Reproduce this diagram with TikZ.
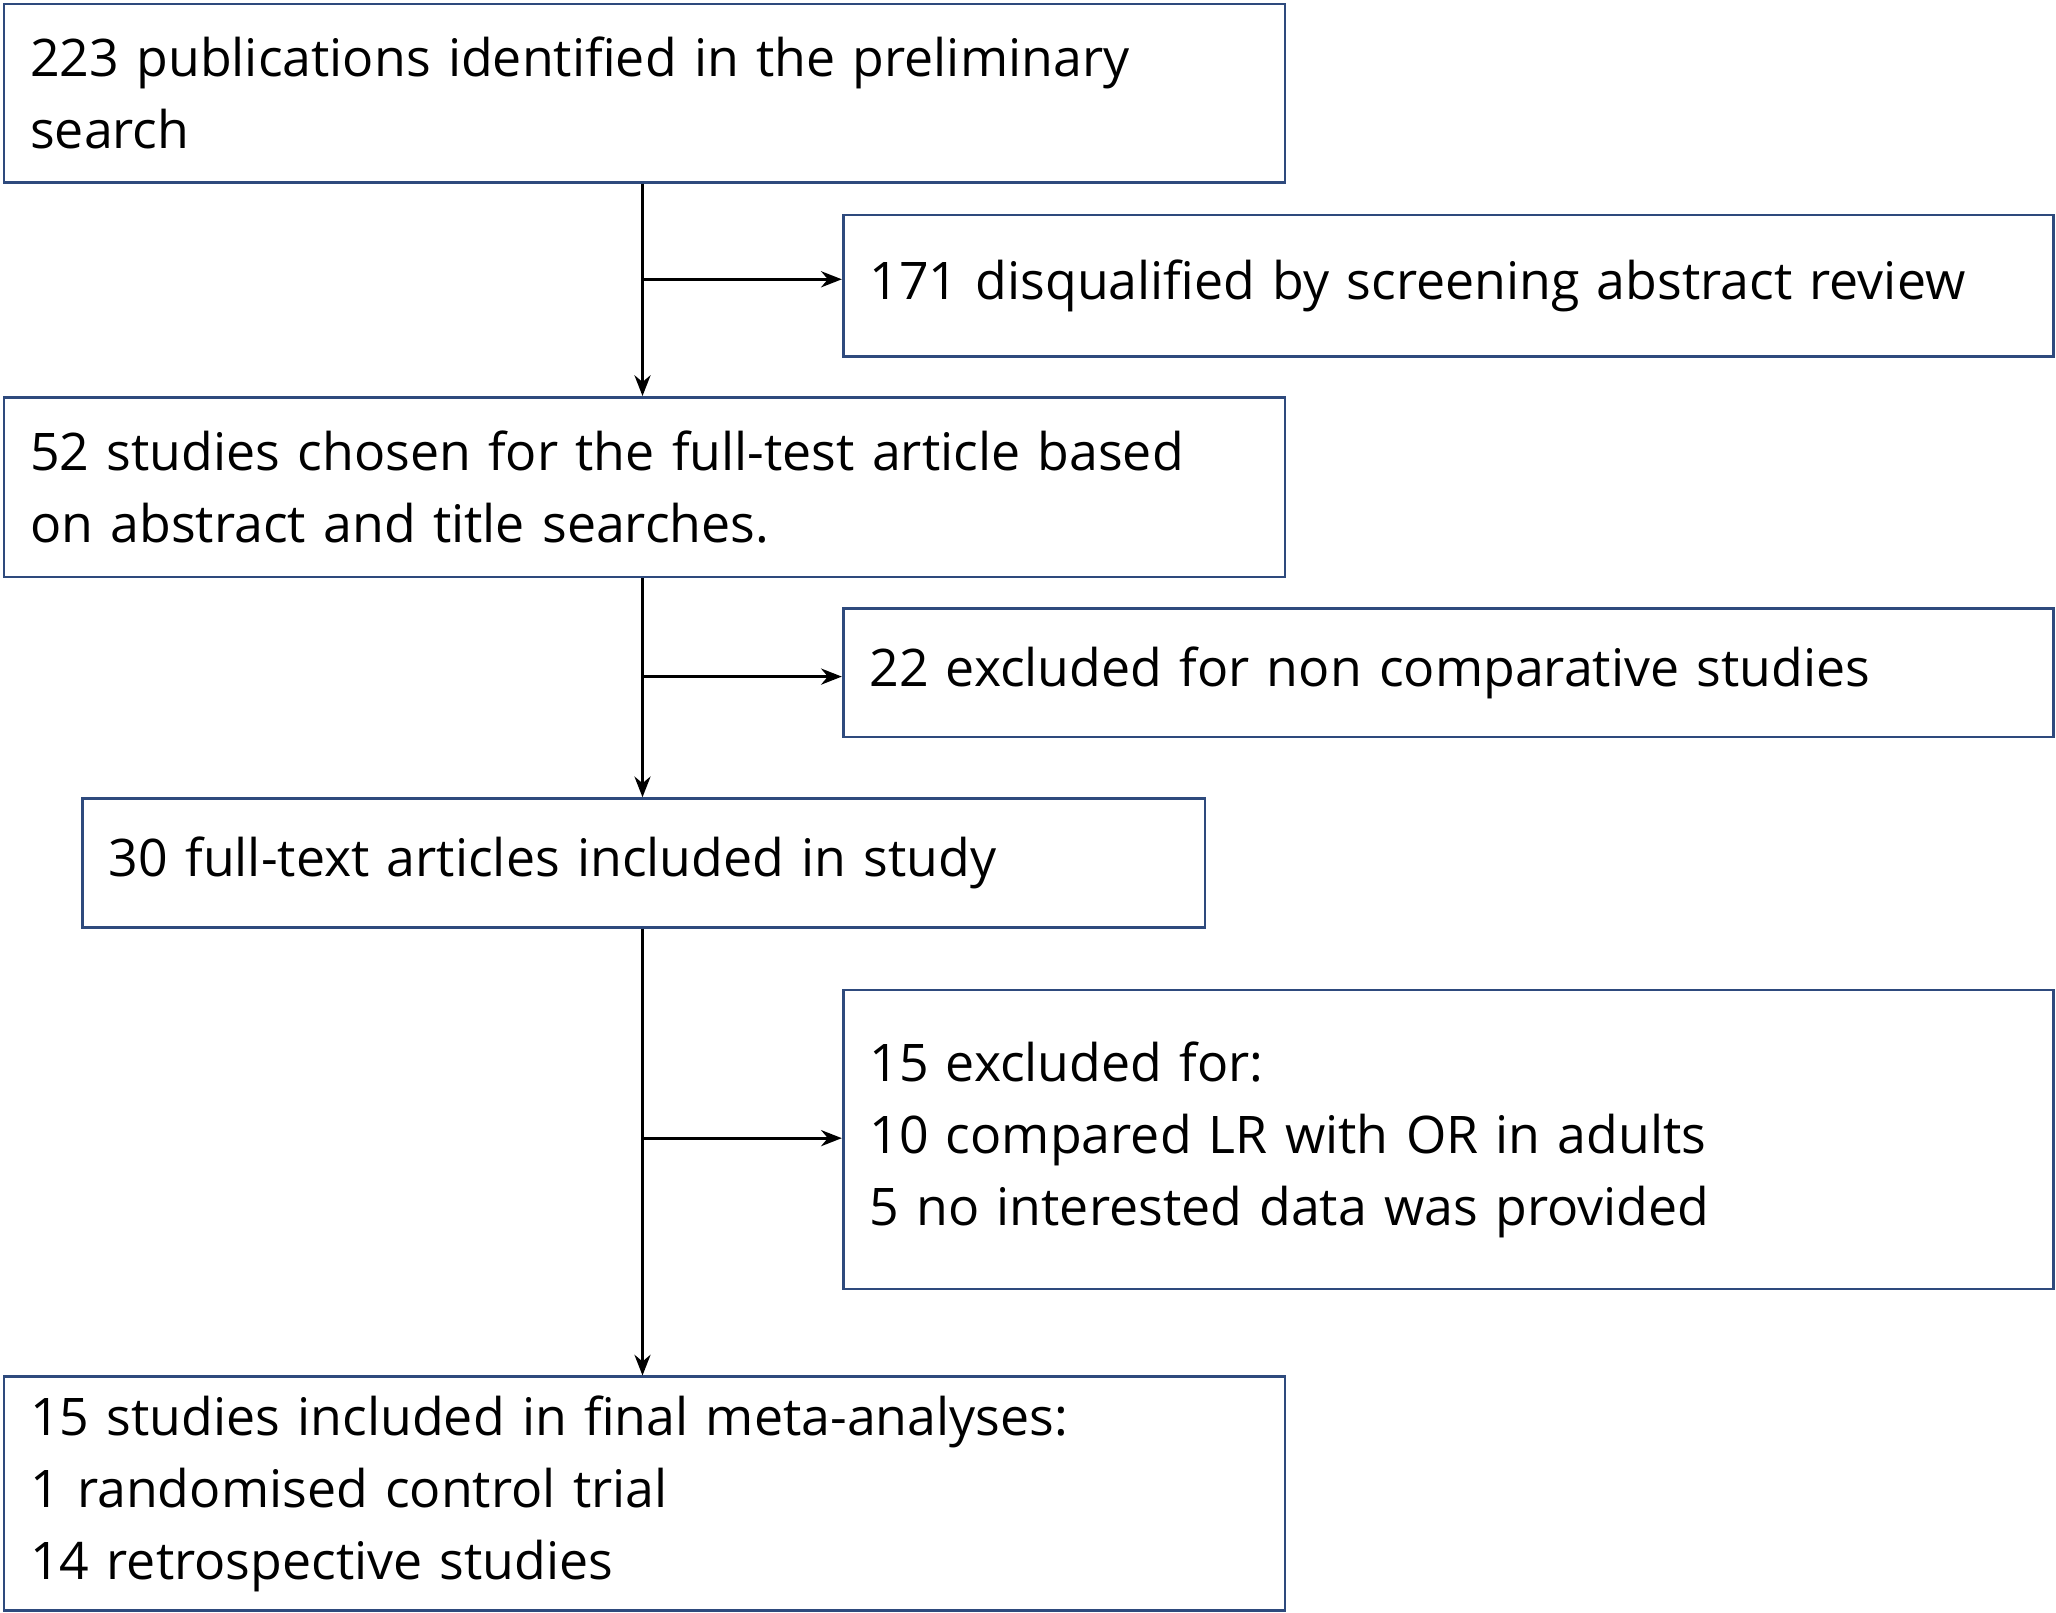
\documentclass[tikz,border=0pt]{standalone}
\usepackage{fontspec}
\setmainfont{Open Sans}
\usetikzlibrary{arrows.meta}
\definecolor{bx}{HTML}{2E4A7D}
\begin{document}
\begin{tikzpicture}[x=0.02cm,y=-0.02cm,
  box/.style={draw=bx,line width=1.2pt,anchor=north west,inner xsep=0.4cm,inner ysep=0pt,align=left,font=\fontsize{22.5}{31.3}\selectfont},
  arr/.style={-{Stealth[length=9pt,width=7pt]},line width=1.2pt,black}]
\useasboundingbox (0,0) rectangle (1568,1230);
\node[box,minimum width=977*0.02cm,minimum height=136*0.02cm,text width=937*0.02cm] (b1) at (2,2) {223 publications identified in the preliminary\\search};
\node[box,minimum width=923*0.02cm,minimum height=108*0.02cm,text width=883*0.02cm] (b2) at (642,163) {171 disqualified by screening abstract review};
\node[box,minimum width=977*0.02cm,minimum height=137*0.02cm,text width=937*0.02cm] (b3) at (2,302) {52 studies chosen for the full-test article based\\on abstract and title searches.};
\node[box,minimum width=923*0.02cm,minimum height=98*0.02cm,text width=883*0.02cm] (b4) at (642,463) {22 excluded for non comparative studies};
\node[box,minimum width=856*0.02cm,minimum height=98*0.02cm,text width=816*0.02cm] (b5) at (62,608) {30 full-text articles included in study};
\node[box,minimum width=923*0.02cm,minimum height=228*0.02cm,text width=883*0.02cm] (b6) at (642,754) {15 excluded for:\\10 compared LR with OR in adults\\5 no interested data was provided};
\node[box,minimum width=977*0.02cm,minimum height=178*0.02cm,text width=937*0.02cm] (b7) at (2,1049) {15 studies included in final meta-analyses:\\1 randomised control trial\\14 retrospective studies};
\coordinate (s1) at (490,213);
\coordinate (s2) at (490,516);
\coordinate (s3) at (490,868);
\draw[arr] (b1.south -| s1) -- (b3.north -| s1);
\draw[arr] (b3.south -| s2) -- (b5.north -| s2);
\draw[arr] (b5.south -| s3) -- (b7.north -| s3);
\draw[arr] (s1) -- (s1 -| b2.west);
\draw[arr] (s2) -- (s2 -| b4.west);
\draw[arr] (s3) -- (s3 -| b6.west);
\end{tikzpicture}
\end{document}
